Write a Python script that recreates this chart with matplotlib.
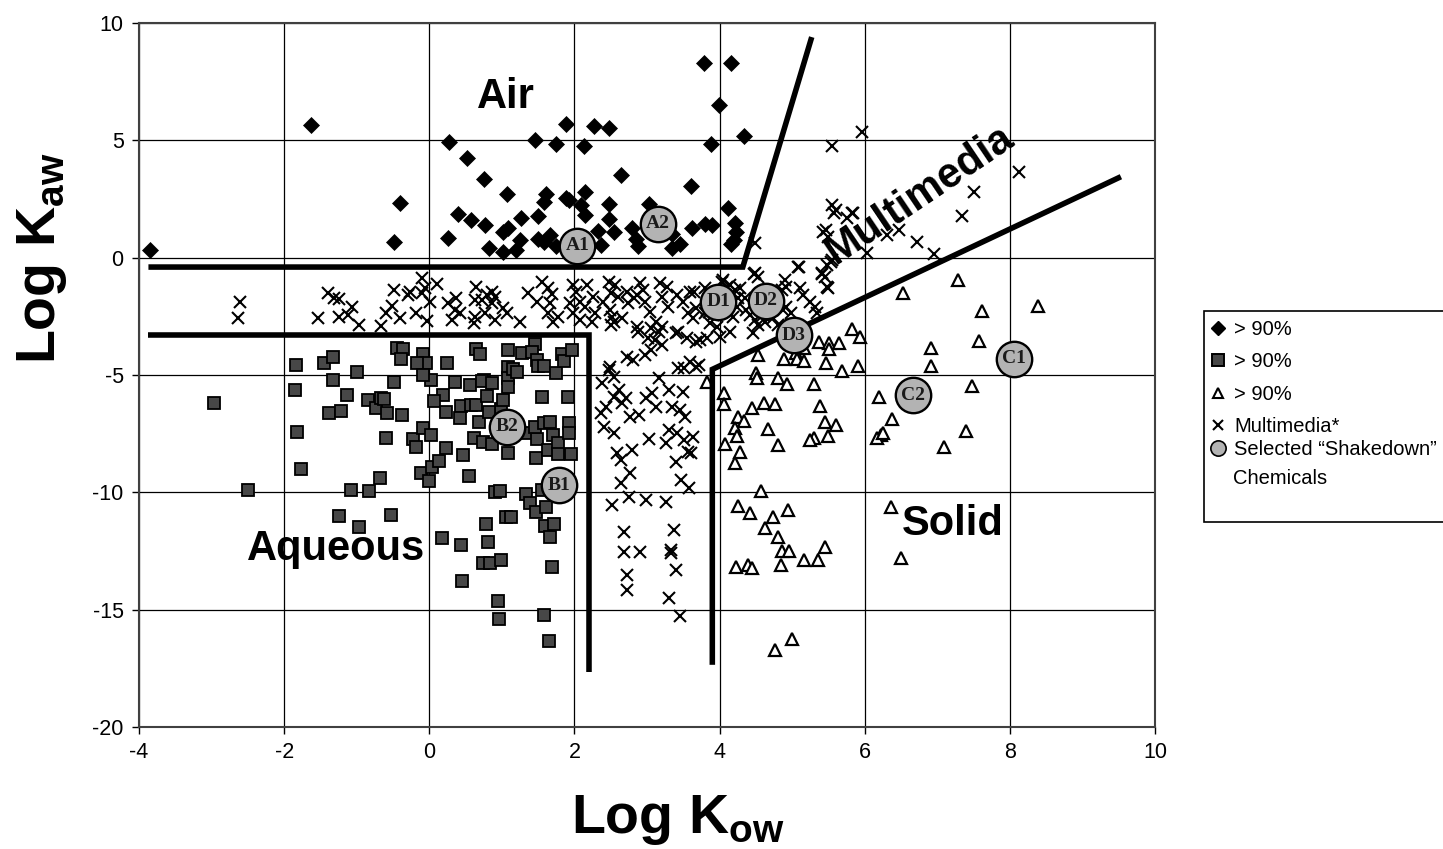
import matplotlib
matplotlib.use("Agg")
import matplotlib.pyplot as plt
from matplotlib.lines import Line2D
from matplotlib.patches import Rectangle

plt.rcParams['font.family'] = ['Liberation Sans', 'DejaVu Sans']
plt.rcParams['mathtext.fontset'] = 'custom'
plt.rcParams['mathtext.bf'] = 'Liberation Sans:bold'
plt.rcParams['mathtext.rm'] = 'Liberation Sans:bold'
plt.rcParams['axes.unicode_minus'] = False

# ---------------- data ----------------
air_x = [-3.85, -1.63, -0.40, -0.48, 0.27, 0.52, 0.76, 1.07, 0.40, 0.57, 0.77, 0.26, 0.82, 1.02,
         1.02, 1.09, 1.26, 1.19, 1.25, 1.50, 1.46, 1.75, 1.89, 1.61, 1.58, 1.88, 1.93, 1.50, 1.66,
         1.58, 1.74, 2.13, 2.27, 2.48, 2.15, 2.09, 2.15, 2.48, 2.47, 2.33, 2.54, 2.36, 2.64, 2.80,
         2.85, 2.87, 3.03, 3.35, 3.35, 3.46, 3.60, 3.62, 3.79, 3.80, 3.89, 3.88, 3.99, 4.16, 4.11,
         4.21, 4.22, 4.20, 4.16, 4.33]
air_y = [0.34, 5.65, 2.33, 0.68, 4.93, 4.26, 3.37, 2.70, 1.88, 1.62, 1.39, 0.85, 0.40, 0.26,
         1.08, 1.25, 1.68, 0.34, 0.74, 1.76, 5.03, 4.83, 5.71, 2.70, 2.37, 2.56, 2.44, 0.80, 0.97,
         0.68, 0.51, 4.77, 5.60, 5.54, 2.81, 2.26, 1.80, 2.29, 1.63, 1.14, 1.08, 0.54, 3.52, 1.28,
         0.80, 0.51, 2.29, 1.02, 0.40, 0.57, 3.04, 1.28, 8.30, 1.45, 1.39, 4.83, 6.51, 8.30, 2.10,
         1.48, 1.08, 0.74, 0.57, 5.20]

aq_x = [-2.97, -2.50, -1.84, -1.85, -1.82, -1.77, -1.45, -1.33, -1.33, -0.99, -1.13, -1.38, -1.21,
        -0.84, -0.74, -0.66, -1.08, -0.83, -1.24, -0.97, -0.68, -0.63, -0.58, -0.37, -0.48, -0.44,
        -0.36, -0.39, -0.09, -0.05, -0.17, 0.02, -0.09, -0.60, -0.22, -0.18, -0.08, 0.02, -0.11,
        0.00, 0.04, 0.13, 0.23, -0.53, 0.25, 0.36, 0.19, 0.07, 0.23, 0.44, 0.43, 0.57, 0.65, 0.80,
        0.56, 0.65, 0.70, 0.76, 0.72, 0.87, 0.47, 0.55, 0.69, 0.62, 0.74, 0.87, 0.99, 1.02, 0.82,
        1.09, 1.09, 1.08, 1.09, 1.15, 1.21, 1.28, 1.45, 1.42, 1.49, 1.50, 1.58, 1.74, 1.83, 1.86,
        1.97, 1.55, 1.91, 1.08, 1.35, 1.49, 1.47, 1.45, 1.58, 1.66, 1.64, 1.71, 1.77, 1.78, 1.95,
        1.93, 1.93, 0.91, 0.97, 1.33, 1.39, 1.47, 1.61, 1.55, 0.78, 0.81, 1.06, 1.12, 0.18, 0.44,
        0.45, 0.74, 0.83, 0.99, 1.59, 1.72, 1.66, 1.69, 0.94, 0.96, 1.58, 1.65]
aq_y = [-6.18, -9.90, -4.57, -5.64, -7.41, -8.99, -4.50, -4.22, -5.21, -4.87, -5.85, -6.60, -6.55,
        -6.07, -6.42, -5.99, -9.90, -9.96, -11.00, -11.46, -9.40, -6.02, -6.63, -6.70, -5.28, -3.86,
        -3.90, -4.33, -4.10, -4.50, -4.50, -5.21, -5.00, -7.67, -7.74, -8.08, -7.27, -7.56, -9.16,
        -9.50, -8.93, -8.65, -8.13, -10.97, -4.50, -5.28, -5.87, -6.10, -6.56, -6.32, -6.82, -6.28,
        -6.28, -5.90, -5.43, -3.91, -4.11, -5.21, -5.24, -5.32, -8.41, -9.29, -6.99, -7.67, -7.84,
        -7.95, -6.45, -6.07, -6.56, -3.93, -4.67, -5.14, -5.50, -4.76, -4.86, -4.05, -3.68, -4.01,
        -4.36, -4.62, -4.62, -4.93, -4.11, -4.39, -3.93, -5.92, -5.92, -8.34, -7.49, -7.73, -8.55,
        -7.20, -7.06, -6.99, -8.20, -7.56, -7.91, -8.37, -8.37, -7.06, -7.49, -9.97, -9.93, -10.07,
        -10.44, -10.82, -10.61, -9.90, -11.36, -12.10, -11.04, -11.04, -11.96, -12.24, -13.76, -13.00,
        -13.03, -12.88, -11.43, -11.35, -11.89, -13.17, -14.62, -15.38, -15.23, -16.35]

sol_x = [7.61, 8.39, 7.29, 6.53, 5.82, 5.93, 5.37, 5.51, 5.65, 5.51, 5.16, 5.05, 5.07, 5.17, 4.89,
         4.53, 5.47, 5.91, 5.69, 4.50, 4.52, 4.81, 4.93, 5.30, 3.82, 4.06, 4.06, 4.45, 4.61, 4.76,
         5.38, 4.25, 4.34, 4.21, 4.24, 4.07, 4.28, 4.21, 4.67, 4.80, 5.45, 5.60, 5.50, 5.30, 5.24,
         6.92, 6.91, 7.58, 7.48, 6.20, 6.38, 6.23, 6.17, 6.25, 7.39, 7.09, 4.57, 4.26, 4.42, 4.73,
         4.94, 4.63, 4.80, 4.86, 4.95, 5.45, 4.22, 4.39, 4.44, 4.85, 5.17, 5.35, 6.36, 6.50, 4.77,
         5.00]
sol_y = [-2.26, -2.08, -0.94, -1.51, -3.02, -3.36, -3.59, -3.62, -3.62, -3.90, -3.87, -4.05, -4.30,
         -4.42, -4.30, -4.16, -4.47, -4.62, -4.83, -4.93, -5.11, -5.11, -5.40, -5.40, -5.30, -5.78,
         -6.25, -6.40, -6.21, -6.25, -6.32, -6.78, -6.97, -7.25, -7.58, -7.96, -8.29, -8.75, -7.29,
         -7.98, -7.01, -7.11, -7.58, -7.68, -7.75, -3.83, -4.62, -3.55, -5.47, -5.94, -6.89, -7.54,
         -7.68, -7.46, -7.39, -8.06, -9.96, -10.60, -10.88, -11.03, -10.74, -11.50, -11.91, -12.48,
         -12.48, -12.31, -13.19, -13.09, -13.23, -13.09, -12.88, -12.88, -10.63, -12.81, -16.72,
         -16.27]

mm_x = [-2.61, -2.63, -1.54, -1.39, -1.31, -1.25, -1.07, -1.12, -1.25, -0.97, -0.66, -0.59, -0.52,
        -0.49, -0.40, -0.27, -0.29, -0.18, -0.10, -0.06, -0.10, 0.01, -0.03, 0.10, 0.26, 0.37, 0.35,
        0.42, 0.31, 0.65, 0.63, 0.62, 0.72, 0.79, 0.86, 0.91, 0.87, 0.63, 0.77, 0.91, 1.02, 1.07,
        1.25, 1.36, 1.48, 1.55, 1.63, 1.69, 1.66, 1.63, 1.78, 1.71, 1.98, 2.02, 2.17, 1.94, 2.08,
        2.15, 1.98, 2.08, 2.26, 2.28, 2.24, 2.47, 2.56, 2.51, 2.40, 2.60, 2.49, 2.54, 2.65, 2.72,
        2.74, 2.86, 2.90, 2.95, 2.97, 3.04, 2.86, 2.88, 3.02, 3.13, 3.18, 3.27, 3.20, 3.29, 3.20,
        3.11, 3.20, 3.06, 2.97, 3.43, 3.55, 3.41, 3.50, 3.59, 3.68, 3.64, 3.80, 3.73, 3.82, 4.03,
        4.10, 2.49, 2.81, 2.72, 3.59, 3.43, 2.52, 2.50, 2.82, 3.05, 3.17, 3.40, 3.67, 3.56, 3.86,
        3.65, 2.47, 2.54, 2.38, 2.61, 2.71, 2.66, 2.54, 2.43, 2.36, 2.41, 2.54, 2.77, 2.89, 2.99,
        3.07, 3.12, 3.17, 3.30, 3.35, 3.49, 3.46, 3.53, 3.30, 3.03, 3.26, 3.42, 3.51, 3.63, 3.60,
        3.40, 3.56, 2.59, 2.64, 2.80, 2.77, 2.64, 2.75, 2.52, 2.98, 3.26, 3.47, 3.58, 3.67, 3.72,
        3.51, 2.68, 3.37, 2.68, 2.91, 3.33, 3.33, 3.40, 2.73, 2.73, 3.31, 3.45, 4.49, 5.08, 4.49,
        4.53, 4.90, 4.86, 4.92, 5.11, 5.15, 5.25, 5.31, 5.34, 5.41, 5.45, 5.50, 5.48, 5.55, 5.55,
        5.61, 5.84, 5.75, 5.43, 5.50, 3.80, 3.87, 4.05, 4.14, 4.21, 4.26, 4.35, 4.37, 4.42, 4.49,
        4.53, 4.60, 4.63, 4.74, 4.81, 4.88, 4.92, 4.99, 3.82, 3.91, 3.87, 3.96, 4.10, 4.19, 4.24,
        4.28, 4.46, 4.01, 4.14, 5.96, 5.55, 5.57, 5.83, 5.46, 6.31, 6.47, 6.03, 6.72, 6.95, 7.34,
        7.51, 8.13, 5.53, 5.41, 5.48, 5.09, 4.47]
mm_y = [-1.87, -2.56, -2.59, -1.52, -1.73, -1.78, -2.09, -2.44, -2.51, -2.87, -2.92, -2.37, -2.06,
        -1.38, -2.58, -1.45, -1.59, -2.34, -0.88, -1.30, -1.49, -1.87, -2.68, -1.12, -1.94, -1.73,
        -2.23, -2.37, -2.65, -1.26, -1.80, -2.77, -1.80, -1.59, -1.45, -1.66, -1.94, -2.51, -2.37,
        -2.65, -2.16, -2.37, -2.73, -1.52, -1.87, -1.02, -1.30, -1.55, -1.94, -2.37, -2.51, -2.73,
        -1.16, -1.45, -1.16, -1.94, -1.87, -2.09, -2.37, -2.65, -1.66, -2.37, -2.73, -1.02, -1.16,
        -1.52, -1.87, -1.66, -2.23, -2.73, -2.58, -1.45, -1.94, -1.59, -1.09, -1.38, -1.87, -2.30,
        -2.94, -3.15, -3.43, -2.73, -1.09, -1.24, -1.66, -2.09, -2.94, -3.51, -3.72, -3.93, -4.15,
        -3.15, -3.43, -1.59, -1.87, -1.45, -2.16, -2.58, -2.37, -3.51, -3.43, -1.02, -1.24, -4.64,
        -4.36, -4.22, -4.43, -4.71, -2.51, -2.87, -1.73, -3.01, -3.15, -3.22, -3.58, -2.37, -2.30,
        -1.45, -4.79, -5.07, -5.36, -5.64, -5.99, -6.21, -5.92, -6.35, -6.63, -7.20, -7.49, -6.78,
        -6.70, -5.99, -5.78, -6.35, -5.14, -5.64, -6.35, -5.71, -6.49, -6.78, -7.34, -7.74, -7.91,
        -7.49, -7.77, -7.63, -8.34, -8.69, -8.27, -8.34, -8.62, -8.20, -9.19, -9.62, -10.18,
        -10.54, -10.33, -10.40, -9.47, -9.83, -4.64, -4.57, -4.72, -11.68, -11.61, -12.53, -12.53,
        -12.46, -12.60, -13.31, -13.52, -14.16, -14.52, -15.27, 0.64, -0.38, -0.66, -0.81, -0.95,
        -1.38, -1.24, -1.30, -1.59, -1.87, -2.09, -2.37, -0.66, -0.81, -1.30, -0.31, -0.10, 2.25,
        2.03, 1.89, 1.68, 1.11, 0.89, -1.30, -1.52, -0.95, -1.16, -1.38, -1.73, -1.73, -2.23,
        -2.44, -2.65, -2.87, -2.44, -2.73, -2.58, -2.87, -2.23, -2.09, -2.37, -2.23, -2.44, -2.80,
        -2.94, -2.23, -2.51, -2.09, -1.30, -3.22, -3.37, -3.15, 5.34, 4.77, 1.89, 1.89, 1.17, 0.96,
        1.17, 0.20, 0.67, 0.17, 1.77, 2.81, 3.67, -0.19, -0.69, -1.26, -0.40, -0.71]

sel_labels = ['A1', 'A2', 'B1', 'B2', 'C1', 'C2', 'D1', 'D2', 'D3']
sel_x = [2.04, 3.15, 1.79, 1.07, 8.06, 6.67, 3.98, 4.64, 5.02]
sel_y = [0.50, 1.45, -9.69, -7.20, -4.30, -5.87, -1.88, -1.83, -3.30]

# region boundary lines (log Kow, log Kaw vertices)
air_bound_x = [-3.87, 4.32, 5.27]
air_bound_y = [-0.40, -0.40, 9.40]
aq_bound_x = [-3.87, 2.20, 2.20]
aq_bound_y = [-3.29, -3.29, -17.64]
sol_bound_x = [3.90, 3.90, 9.53]
sol_bound_y = [-17.35, -4.76, 3.45]

legend_labels = ['> 90%', '> 90%', '> 90%', 'Multimedia*', 'Selected \u201cShakedown\u201d']
legend_extra = 'Chemicals'

# ---------------- figure ----------------
W, H = 1443, 849
fig = plt.figure(figsize=(W / 100, H / 100), dpi=100)
ax = fig.add_axes([139 / W, 1 - 727 / H, (1155 - 139) / W, (727 - 23) / H])

ax.set_xlim(-4, 10)
ax.set_ylim(-20, 10)
ax.set_xticks(range(-4, 11, 2))
ax.set_yticks(range(-20, 11, 5))
ax.grid(True, color='black', linewidth=0.9)
ax.set_axisbelow(True)
for s in ax.spines.values():
    s.set_color('#404040')
    s.set_linewidth(1.5)
ax.tick_params(labelsize=15.5, length=5, width=1, direction='out', colors='black', pad=6)

ax.plot(mm_x, mm_y, linestyle='none', marker='x', ms=8.5, mew=1.5, color='black', zorder=3)
ax.plot(sol_x, sol_y, linestyle='none', marker='^', ms=9, mew=1.6, mfc='white', mec='black', zorder=3)
ax.plot(aq_x, aq_y, linestyle='none', marker='s', ms=8.5, mew=1.3, mfc='#474747', mec='black', zorder=3)
ax.plot(air_x, air_y, linestyle='none', marker='D', ms=8, mew=0.5, mfc='black', mec='black', zorder=3)

for bx, by in [(air_bound_x, air_bound_y), (aq_bound_x, aq_bound_y), (sol_bound_x, sol_bound_y)]:
    ax.plot(bx, by, color='black', linewidth=4, solid_capstyle='butt', solid_joinstyle='miter', zorder=4)

ax.plot(sel_x, sel_y, linestyle='none', marker='o', ms=25.5, mew=1.7, mfc='#b3b3b3', mec='black', zorder=5)
for lab, x, y in zip(sel_labels, sel_x, sel_y):
    ax.text(x, y, lab, ha='center', va='center', fontsize=14, fontweight='bold',
            family=['Liberation Serif', 'DejaVu Serif'], color='#1a1a1a', zorder=6)

# region labels
ax.text(1.05, 6.85, 'Air', fontsize=30, fontweight='bold', ha='center', va='center', zorder=6)
ax.text(-1.29, -12.40, 'Aqueous', fontsize=30, fontweight='bold', ha='center', va='center', zorder=6)
ax.text(7.22, -11.35, 'Solid', fontsize=30, fontweight='bold', ha='center', va='center', zorder=6)
ax.text(6.76, 2.67, 'Multimedia', fontsize=30, fontweight='bold', ha='center', va='center',
        rotation=34, rotation_mode='anchor', zorder=6)

# axis labels
fig.text(678 / W, 1 - 820 / H, r'Log K$_{\mathbf{ow}}$', fontsize=40, fontweight='bold',
         ha='center', va='center')
fig.text(42 / W, 1 - 258 / H, r'Log K$_{\mathbf{aw}}$', fontsize=40, fontweight='bold',
         ha='center', va='center', rotation=90)

# legend
handles = [
    Line2D([], [], linestyle='none', marker='D', ms=7.5, mfc='black', mec='black'),
    Line2D([], [], linestyle='none', marker='s', ms=8.5, mfc='#474747', mec='black', mew=1.4),
    Line2D([], [], linestyle='none', marker='^', ms=7.5, mfc='white', mec='black', mew=1.5),
    Line2D([], [], linestyle='none', marker='x', ms=7.5, mew=1.5, color='black'),
    Line2D([], [], linestyle='none', marker='o', ms=11, mfc='#b3b3b3', mec='black', mew=1.2),
]
fig.add_artist(Rectangle((1204 / W, 1 - 522 / H), 260 / W, 211 / H, transform=fig.transFigure,
                         facecolor='white', edgecolor='black', linewidth=1.2))
leg_kw = dict(loc='upper left', bbox_transform=fig.transFigure, frameon=False, fontsize=14.5,
              handlelength=1.0, handletextpad=0.3, labelspacing=0.66, borderpad=0.0,
              borderaxespad=0.0)
leg1 = fig.legend(handles[:4], legend_labels[:4], bbox_to_anchor=(1208 / W, 1 - 320 / H), **leg_kw)
leg2 = fig.legend(handles[4:], legend_labels[4:], bbox_to_anchor=(1208 / W, 1 - 440 / H), **leg_kw)
fig.text(1233 / W, 1 - 478 / H, legend_extra, fontsize=14.5, ha='left', va='center')

fig.savefig('out.png', dpi=100)
